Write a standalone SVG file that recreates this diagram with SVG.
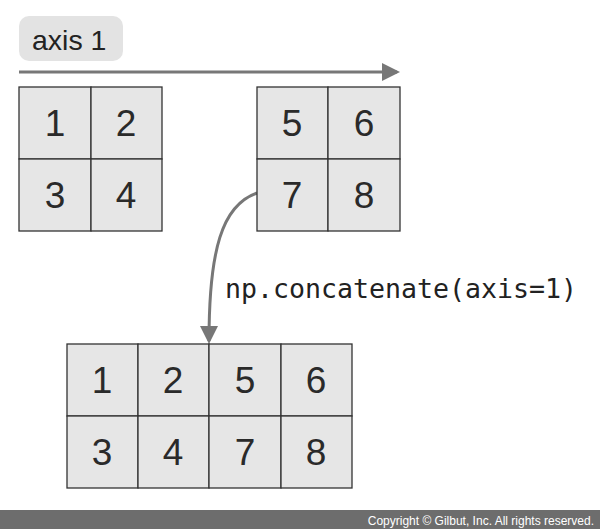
<svg xmlns="http://www.w3.org/2000/svg" width="600" height="529" viewBox="0 0 600 529">
<defs>
<style>
.cell{fill:#e6e6e6;stroke:#333;stroke-width:1.3}
.num{font-family:"Liberation Sans",Arial,sans-serif;font-size:37px;fill:#2a2a2a;text-anchor:middle}
.conn{fill:none;stroke:#777;stroke-width:3}
</style>
<marker id="ah" markerWidth="6" markerHeight="6" refX="5" refY="3" orient="auto" markerUnits="strokeWidth" viewBox="0 0 6 6">
<path d="M0,0 L6,3 L0,6 z" fill="#777"/>
</marker>
</defs>
<rect width="600" height="529" fill="#fff"/>
<g id="label-axis">
<rect x="19" y="16" width="104" height="45" rx="10" fill="#e3e3e3"/>
<text x="32" y="50" font-family="'Liberation Sans',Arial,sans-serif" font-size="28.5" fill="#222">axis 1</text>
</g>
<g id="connectors">
<path class="conn" d="M19,72 L397,72" marker-end="url(#ah)"/>
<path class="conn" d="M257,193 C222,205 209,250 209,341" marker-end="url(#ah)"/>
</g>
<g id="grid-left">
<rect class="cell" x="19" y="87" width="72" height="72"/>
<rect class="cell" x="91" y="87" width="71" height="72"/>
<rect class="cell" x="19" y="159" width="72" height="72"/>
<rect class="cell" x="91" y="159" width="71" height="72"/>
<text class="num" x="55" y="136">1</text>
<text class="num" x="126" y="136">2</text>
<text class="num" x="55" y="208">3</text>
<text class="num" x="126" y="208">4</text>
</g>
<g id="grid-right">
<rect class="cell" x="257" y="87" width="71" height="72"/>
<rect class="cell" x="328" y="87" width="72" height="72"/>
<rect class="cell" x="257" y="159" width="71" height="72"/>
<rect class="cell" x="328" y="159" width="72" height="72"/>
<text class="num" x="292" y="136">5</text>
<text class="num" x="364" y="136">6</text>
<text class="num" x="292" y="208">7</text>
<text class="num" x="364" y="208">8</text>
</g>
<g id="label-concat">
<text x="225" y="298" font-family="'DejaVu Sans Mono','Liberation Mono',monospace" font-size="26" fill="#222" textLength="352" lengthAdjust="spacingAndGlyphs">np.concatenate(axis=1)</text>
</g>
<g id="grid-result">
<rect class="cell" x="67" y="344" width="71" height="72"/>
<rect class="cell" x="138" y="344" width="71" height="72"/>
<rect class="cell" x="209" y="344" width="72" height="72"/>
<rect class="cell" x="281" y="344" width="71" height="72"/>
<rect class="cell" x="67" y="416" width="71" height="72"/>
<rect class="cell" x="138" y="416" width="71" height="72"/>
<rect class="cell" x="209" y="416" width="72" height="72"/>
<rect class="cell" x="281" y="416" width="71" height="72"/>
<text class="num" x="102" y="393">1</text>
<text class="num" x="173" y="393">2</text>
<text class="num" x="245" y="393">5</text>
<text class="num" x="316" y="393">6</text>
<text class="num" x="102" y="465">3</text>
<text class="num" x="173" y="465">4</text>
<text class="num" x="245" y="465">7</text>
<text class="num" x="316" y="465">8</text>
</g>
<g id="footer">
<rect x="0" y="510" width="600" height="19" fill="#6d6d6d"/>
<text x="594" y="525" font-family="'Liberation Sans',Arial,sans-serif" font-size="12" fill="#fff" text-anchor="end">Copyright © Gilbut, Inc. All rights reserved.</text>
</g>
</svg>
